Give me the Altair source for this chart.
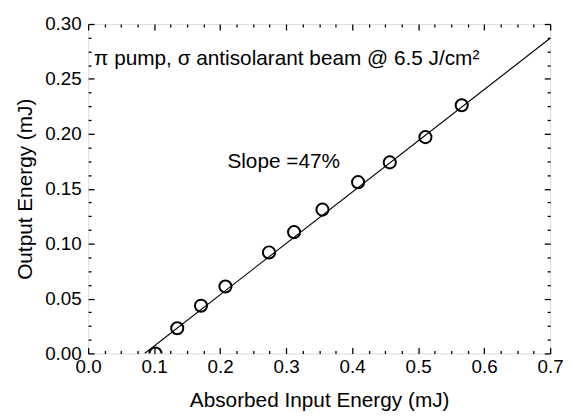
import altair as alt
import pandas as pd

# ---- data ----
x_in = [0.102, 0.135, 0.171, 0.208, 0.274, 0.312, 0.355, 0.409, 0.457, 0.511, 0.566]
y_out = [0.000, 0.023, 0.0435, 0.061, 0.092, 0.1105, 0.131, 0.156, 0.174, 0.197, 0.226]
fit_x = [0.0855, 0.70]
fit_y = [0.000, 0.287]

x_major = [0.0, 0.1, 0.2, 0.3, 0.4, 0.5, 0.6, 0.7]
x_all = [0.0, 0.025, 0.05, 0.075, 0.1, 0.125, 0.15, 0.175, 0.2, 0.225, 0.25, 0.275,
         0.3, 0.325, 0.35, 0.375, 0.4, 0.425, 0.45, 0.475, 0.5, 0.525, 0.55, 0.575,
         0.6, 0.625, 0.65, 0.675, 0.7]
y_major = [0.0, 0.05, 0.10, 0.15, 0.20, 0.25, 0.30]
y_all = [0.0, 0.0125, 0.025, 0.0375, 0.05, 0.0625, 0.075, 0.0875, 0.1, 0.1125, 0.125,
         0.1375, 0.15, 0.1625, 0.175, 0.1875, 0.2, 0.2125, 0.225, 0.2375, 0.25,
         0.2625, 0.275, 0.2875, 0.3]

ann_text = ["π pump, σ antisolarant beam @ 6.5 J/cm²", "Slope =47%"]
ann_x = [0.009, 0.211]
ann_y = [0.268, 0.174]

x_title = "Absorbed Input Energy (mJ)"
y_title = "Output Energy (mJ)"

W, H = 467, 333
FONT = "Liberation Sans"

pts = pd.DataFrame({"x": x_in, "y": y_out})
fit = pd.DataFrame({"x": fit_x, "y": fit_y})
ann = pd.DataFrame({"x": ann_x, "y": ann_y, "t": ann_text})

xs = alt.Scale(domain=[0, 0.7], nice=False, zero=False)
ys = alt.Scale(domain=[0, 0.3], nice=False, zero=False)

major_x_test = "abs(datum.value*10 - round(datum.value*10)) < 0.001"
major_y_test = "abs(datum.value*20 - round(datum.value*20)) < 0.001"


def tick_axis(orient, vals, test, offset):
    return alt.Axis(orient=orient, offset=offset, values=vals, labels=False,
                    domain=False, grid=False, title=None, tickColor="black",
                    tickWidth=1.3,
                    tickSize={"condition": {"test": test, "value": 6}, "value": 3})


label_x_axis = alt.Axis(orient="bottom", values=x_major, format=".1f", ticks=False,
                        domain=False, grid=False, labelFlush=False, labelOverlap=False,
                        labelFont=FONT, labelFontSize=19, labelColor="black",
                        labelPadding=4, title=x_title, titleFont=FONT,
                        titleFontSize=21, titleFontWeight="normal", titleColor="black",
                        titlePadding=14)
label_y_axis = alt.Axis(orient="left", values=y_major, format=".2f", ticks=False,
                        domain=False, grid=False, labelFlush=False, labelOverlap=False,
                        labelFont=FONT, labelFontSize=19, labelColor="black",
                        labelPadding=7, title=y_title, titleFont=FONT,
                        titleFontSize=21, titleFontWeight="normal", titleColor="black",
                        titlePadding=9)

line = alt.Chart(fit).mark_line(color="black", strokeWidth=1.1, clip=True).encode(
    x=alt.X("x:Q", scale=xs, axis=label_x_axis),
    y=alt.Y("y:Q", scale=ys, axis=label_y_axis),
)

points = alt.Chart(pts).mark_point(shape="circle", filled=False, color="black",
                                   size=150, strokeWidth=2.0, opacity=1, clip=True).encode(
    x=alt.X("x:Q", scale=xs, axis=tick_axis("top", x_all, major_x_test, -H)),
    y=alt.Y("y:Q", scale=ys, axis=tick_axis("right", y_all, major_y_test, -W)),
)

ghost = alt.Chart(pts).mark_point(opacity=0).encode(
    x=alt.X("x:Q", scale=xs, axis=tick_axis("bottom", x_all, major_x_test, -H)),
    y=alt.Y("y:Q", scale=ys, axis=tick_axis("left", y_all, major_y_test, -W)),
)

texts = alt.Chart(ann).mark_text(align="left", baseline="middle", font=FONT,
                                 fontSize=21, color="black").encode(
    x=alt.X("x:Q", scale=xs, axis=None),
    y=alt.Y("y:Q", scale=ys, axis=None),
    text="t:N",
)

chart = alt.layer(line, points, ghost, texts).resolve_axis(
    x="independent", y="independent"
).properties(
    width=W, height=H,
    autosize=alt.AutoSizeParams(type="none"),
    padding={"left": 81, "top": 14, "right": 15, "bottom": 60},
).configure_view(stroke="black", strokeWidth=1.4).configure(background="white")

chart.save("out.html", embed_options={"renderer": "svg", "actions": False})
